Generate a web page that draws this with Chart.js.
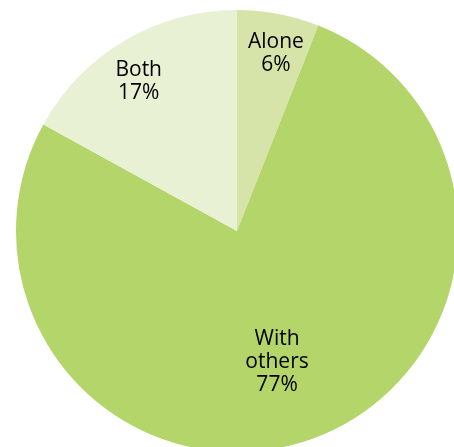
<!DOCTYPE html>
<html>
<head>
<meta charset="utf-8">
<script src="https://cdn.jsdelivr.net/npm/chart.js@4/dist/chart.umd.min.js"></script>
<style>
  html, body { margin: 0; padding: 0; background: #fff; overflow: hidden; width: 454px; height: 447px; }
  #wrap { position: absolute; left: 0; top: 0; width: 474px; height: 462px; }
</style>
</head>
<body>
<div id="wrap"><canvas id="pie"></canvas></div>
<script>
// chart data
var categories = ['Alone', 'With others', 'Both'];
var labelLines = [['Alone'], ['With', 'others'], ['Both']];
var shares = [6, 77, 17];
var sliceColors = ['#d6e4a9', '#b3d56a', '#e8f1d4'];

// label placement: fraction of radius, and a small nudge (degrees) off the slice's middle
var labelRadius = [0.82, 0.62, 0.81];
var labelNudge = [1.6, 2.8, -2.7];

var pieLabels = {
    id: 'pieLabels',
    afterDatasetsDraw: function (chart) {
        var ctx = chart.ctx;
        var meta = chart.getDatasetMeta(0);
        ctx.save();
        ctx.font = '21px "Open Sans", sans-serif';
        ctx.fillStyle = '#000';
        ctx.textAlign = 'center';
        ctx.textBaseline = 'middle';
        meta.data.forEach(function (arc, i) {
            var mid = (arc.startAngle + arc.endAngle) / 2 + labelNudge[i] * Math.PI / 180;
            var r = arc.outerRadius * labelRadius[i];
            var x = arc.x + Math.cos(mid) * r;
            var y = arc.y + Math.sin(mid) * r;
            var lines = labelLines[i].concat([shares[i] + '%']);
            var lh = 23;
            var y0 = y - (lines.length - 1) * lh / 2;
            lines.forEach(function (t, k) {
                ctx.fillText(t, x, y0 + k * lh);
            });
        });
        ctx.restore();
    }
};

new Chart(document.getElementById('pie'), {
    type: 'pie',
    data: {
        labels: categories,
        datasets: [{ data: shares, backgroundColor: sliceColors, borderWidth: 0 }]
    },
    options: {
        responsive: true, maintainAspectRatio: false, animation: false,
        layout: { padding: { left: 16, top: 10, right: 16, bottom: 10 } },
        plugins: { legend: { display: false }, tooltip: { enabled: false } }
    },
    plugins: [pieLabels]
});
</script>
</body>
</html>
